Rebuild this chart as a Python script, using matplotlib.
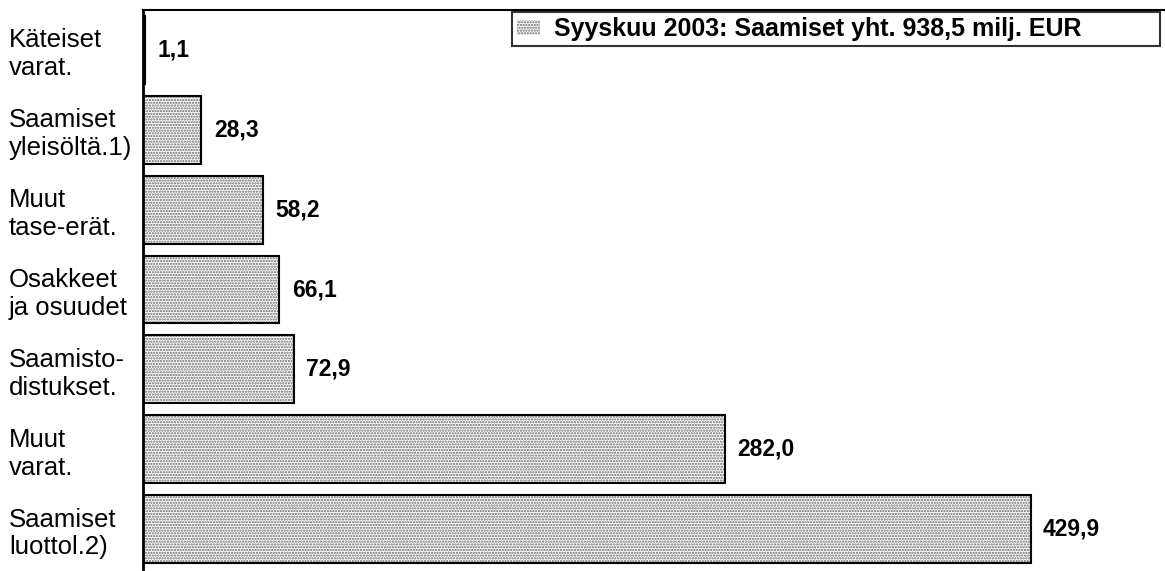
import matplotlib.pyplot as plt

plt.rcParams['font.family'] = ['Liberation Sans', 'DejaVu Sans']
plt.rcParams['hatch.linewidth'] = 1.1

categories = ['Käteiset\nvarat.', 'Saamiset\nyleisöltä.1)', 'Muut\ntase-erät.',
              'Osakkeet\nja osuudet', 'Saamisto-\ndistukset.', 'Muut\nvarat.',
              'Saamiset\nluottol.2)']
values = [1.1, 28.3, 58.2, 66.1, 72.9, 282.0, 429.9]
series_name = 'Syyskuu 2003: Saamiset yht. 938,5 milj. EUR'

fig = plt.figure(figsize=(11.65, 5.71), dpi=100)
ax = fig.add_axes([143/1165, 2/571, 1022/1165, 559/571])

ypos = list(range(len(values)))
# stippled fill + black outline
ax.barh(ypos, values, height=0.85, color='white', edgecolor='#666666',
        hatch='......', linewidth=0, label=series_name)
ax.barh(ypos, values, height=0.85, fill=False, edgecolor='black', linewidth=1.5)

for y, v in zip(ypos, values):
    ax.annotate(f'{v:.1f}'.replace('.', ','), (v, y), xytext=(9, 0),
                textcoords='offset points', va='center', ha='left',
                fontsize=16.5, fontweight='bold')

ax.set_xlim(0, 495)
ax.set_ylim(6.5, -0.5)
ax.set_yticks(ypos)
ax.set_yticklabels(categories, fontsize=18.5, linespacing=1.2, ha='left')
ax.tick_params(axis='y', length=0, pad=134*72/100)
ax.set_xticks([])

ax.spines['right'].set_visible(False)
ax.spines['bottom'].set_visible(False)
ax.spines['left'].set_linewidth(2)
ax.spines['top'].set_linewidth(1.5)

# legend box stretched over the right part of the top edge
leg = ax.legend(loc='upper left', bbox_to_anchor=(369/1022, 1 - 2/559, 648/1022, 0),
                mode='expand', frameon=True, fancybox=False, edgecolor='black',
                prop={'weight': 'bold', 'size': 18},
                handlelength=0.9, handleheight=0.55, handletextpad=0.6,
                borderpad=0.2, borderaxespad=0)
leg.get_frame().set_linewidth(1.5)

fig.savefig('out.png', dpi=100)
